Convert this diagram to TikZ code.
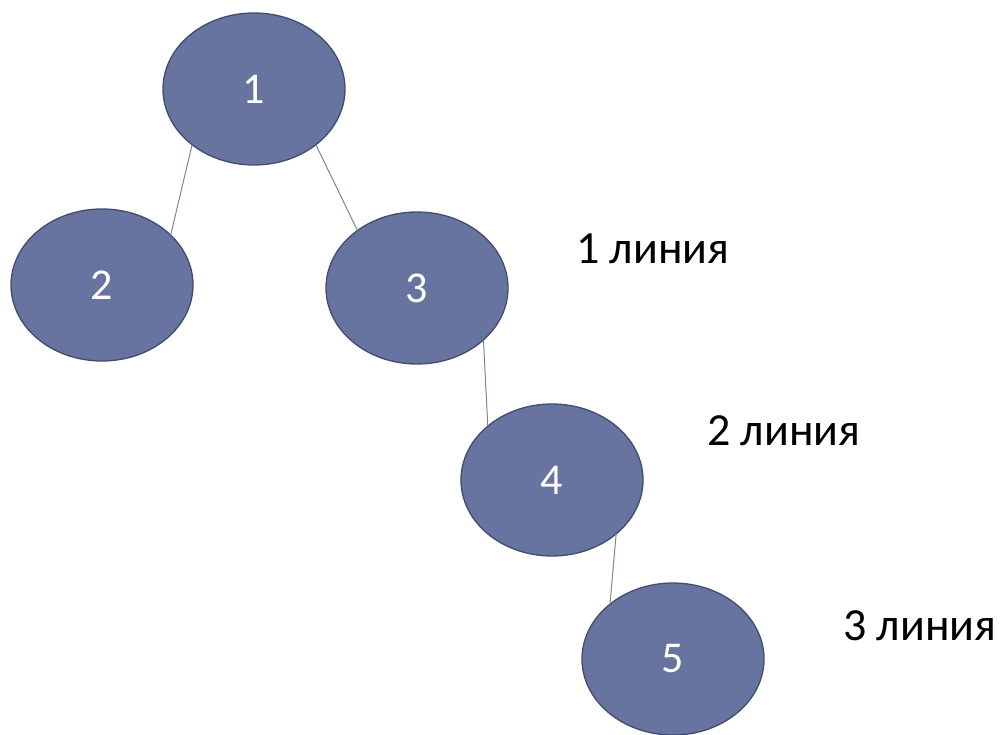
\documentclass[tikz,border=0pt]{standalone}
\usepackage{fontspec}
\setmainfont{Carlito}
\usetikzlibrary{shapes.geometric}
\definecolor{nodefill}{RGB}{104,116,160}
\definecolor{nodeedge}{RGB}{66,76,112}
\definecolor{edgeline}{RGB}{125,132,160}
\begin{document}
\begin{tikzpicture}[x=1pt,y=-1pt,
  vertex/.style={ellipse,draw=nodeedge,line width=1.3pt,fill=nodefill,inner sep=0pt,outer sep=0pt,
    minimum width=182pt,minimum height=152pt,text=white,font=\fontsize{44}{52}\selectfont},
  link/.style={draw=edgeline,line width=1pt},
  lvl/.style={anchor=base west,inner sep=0pt,font=\fontsize{46}{54}\selectfont}]
\useasboundingbox (0,0) rectangle (1007,735);
\node[vertex] (n1) at (254,89) {1};
\node[vertex] (n2) at (102,285) {2};
\node[vertex] (n3) at (417,288) {3};
\node[vertex] (n4) at (552,480) {4};
\node[vertex] (n5) at (673,659) {5};
\draw[link] (n1.222) -- (n2.36);
\draw[link] (n1.318) -- (n3.136);
\draw[link] (n3.322) -- (n4.140);
\draw[link] (n4.320) -- (n5.139);
\node[lvl] (l1) at (576,264) {1 линия};
\node[lvl] (l2) at (707,445) {2 линия};
\node[lvl] (l3) at (843,640) {3 линия};
\end{tikzpicture}
\end{document}
